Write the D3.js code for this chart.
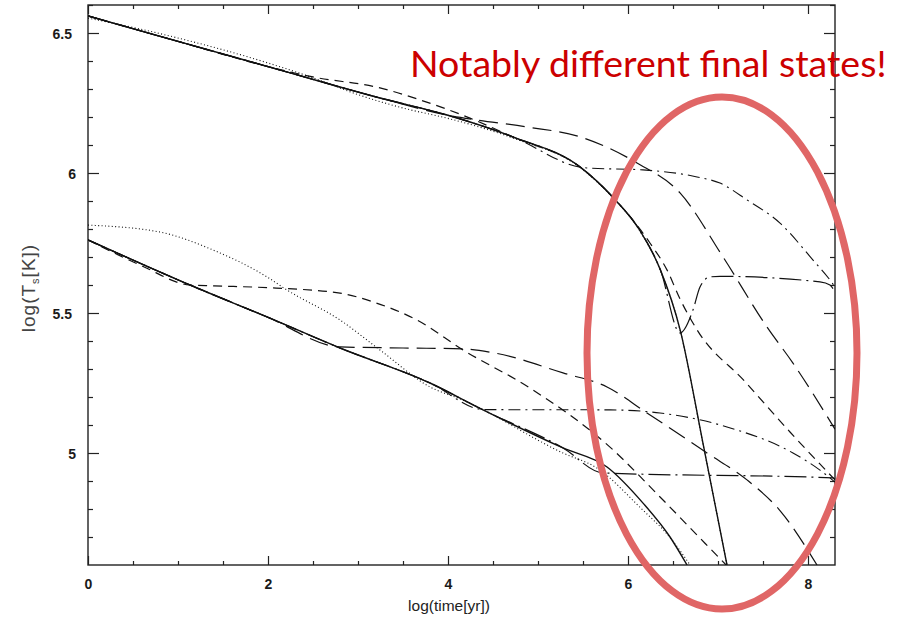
<!DOCTYPE html>
<html><head><meta charset="utf-8">
<script src="https://cdn.jsdelivr.net/npm/d3@7"></script>
<style>html,body{margin:0;padding:0;background:#fff;} svg{display:block}</style>
</head><body><svg id="chart" width="903" height="617"></svg>
<script>
// ---------- axis data ----------
const xDomain = [0, 8.3];
const yDomain = [4.6, 6.6];
const xMajorTicks = [0, 2, 4, 6, 8];
const xMinorTicks = [0.5, 1, 1.5, 2.5, 3, 3.5, 4.5, 5, 5.5, 6.5, 7, 7.5];
const yMajorTicks = [5, 5.5, 6, 6.5];
const yMinorTicks = [4.7, 4.8, 4.9, 5.1, 5.2, 5.3, 5.4, 5.6, 5.7, 5.8, 5.9, 6.1, 6.2, 6.3, 6.4, 6.6];
const xLabel = "log(time[yr])";
const annotation = "Notably different final states!";

// ---------- upper family (x = log t, y = log Ts) ----------
const upperSolid = [[0,6.561],[1,6.470],[2,6.380],[3.244,6.268],[3.99,6.207],[4.72,6.129],[5.47,6.021],[5.83,5.914],[6.13,5.796],[6.36,5.654],[6.58,5.439],[6.83,5.04],[7.1,4.6]];
const upperDotted = [[0,6.553],[0.5,6.52],[1,6.482],[1.5,6.44],[2,6.393],[2.5,6.34],[3,6.28],[3.5,6.232],[4,6.195],[4.72,6.125],[5.47,6.019],[5.83,5.912],[6.13,5.794],[6.36,5.652],[6.58,5.437],[6.83,5.038],[7.1,4.6]];
const upperShortDash = [[0,6.561],[1,6.470],[2,6.380],[2.5,6.343],[3.244,6.304],[3.69,6.261],[4.244,6.196],[4.72,6.129],[5.47,6.021],[5.83,5.914],[6.244,5.75],[6.433,5.654],[6.578,5.55],[6.767,5.44],[7.3,5.255],[7.8,5.075],[8.3,4.904]];
const upperLongDash = [[0,6.561],[1,6.470],[2,6.380],[3.244,6.268],[3.99,6.207],[4.33,6.189],[4.89,6.164],[5.47,6.129],[6.1,6.036],[6.578,5.929],[7.056,5.7],[7.544,5.45],[7.833,5.321],[8.3,5.085]];
const upperDashDot = [[0,6.561],[1,6.470],[2,6.380],[3.244,6.268],[3.99,6.207],[4.72,6.129],[5.47,6.021],[5.544,6.018],[6.167,6.011],[6.767,5.986],[7.022,5.964],[7.322,5.904],[7.689,5.821],[8.056,5.689],[8.244,5.618],[8.3,5.593]];
const upperBump = [[0,6.561],[1,6.470],[2,6.380],[3.244,6.268],[3.99,6.207],[4.72,6.129],[5.47,6.021],[5.83,5.914],[6.13,5.796],[6.36,5.654],[6.578,5.429],[6.722,5.511],[6.8,5.593],[6.911,5.629],[7.022,5.631],[8.133,5.611],[8.244,5.6],[8.3,5.575]];

// ---------- lower family ----------
const lowerSolid = [[0,5.761],[1.133,5.6],[1.989,5.486],[2.8,5.375],[3.8,5.25],[4.389,5.154],[5.278,5.018],[5.767,4.95],[6.167,4.821],[6.467,4.7],[6.656,4.6]];
const lowerDotted = [[0,5.814],[0.8,5.789],[1.389,5.725],[1.989,5.629],[2.211,5.582],[2.8,5.475],[3.244,5.368],[3.8,5.236],[4.167,5.189],[5.278,5.0],[5.656,4.946],[6.13,4.807],[6.49,4.689],[6.69,4.6]];
const lowerShortDash = [[0,5.761],[0.6,5.668],[1.133,5.6],[1.4,5.597],[2.09,5.589],[2.8,5.571],[3.2,5.536],[3.656,5.475],[4.167,5.368],[4.911,5.232],[5.8,5.021],[6.356,4.843],[6.8,4.696],[7.09,4.6]];
const lowerLongDash = [[0,5.761],[1.133,5.6],[1.989,5.486],[2.8,5.379],[3.5,5.375],[4.167,5.372],[4.522,5.357],[5.278,5.286],[5.767,5.236],[6.211,5.143],[6.878,5.0],[7.322,4.904],[7.7,4.79],[8.1,4.6]];
const lowerDashDot = [[0,5.761],[1.133,5.6],[1.989,5.486],[2.8,5.375],[3.8,5.25],[4.4,5.155],[5.8,5.154],[6.356,5.143],[7.1,5.093],[7.833,5.0],[8.133,4.939],[8.3,4.896]];
const lowerFlat = [[0,5.761],[1.133,5.6],[1.989,5.486],[2.8,5.375],[3.8,5.25],[4.389,5.154],[5.278,5.018],[5.722,4.929],[8.278,4.911],[8.3,4.905]];

// ---------- drawing ----------
const W = 903, H = 617;
const svg = d3.select('#chart');
svg.append('rect').attr('width', W).attr('height', H).attr('fill', '#fff');

const x = d3.scaleLinear().domain(xDomain).range([88, 835]);
const y = d3.scaleLinear().domain(yDomain).range([565, 5]);

const axisColor = '#222';
const font = "'Liberation Sans', Arial, sans-serif";

svg.append('clipPath').attr('id', 'plotclip')
  .append('rect').attr('x', 88).attr('y', 5).attr('width', 747).attr('height', 560);

function styleAxis(g) {
  g.select('.domain').remove();
  g.selectAll('line').attr('stroke', axisColor).attr('stroke-width', 1.2);
  g.selectAll('text').attr('fill', '#1a1a1a').attr('font-family', font)
    .attr('font-size', 14).attr('font-weight', 'bold');
}

// bottom
svg.append('g').attr('transform', 'translate(0,565)')
  .call(d3.axisBottom(x).tickValues(xMajorTicks).tickSize(-9).tickPadding(14).tickFormat(d3.format('')))
  .call(styleAxis);
svg.append('g').attr('transform', 'translate(0,565)')
  .call(d3.axisBottom(x).tickValues(xMinorTicks).tickSize(-4).tickFormat(''))
  .call(styleAxis);
// top
svg.append('g').attr('transform', 'translate(0,5)')
  .call(d3.axisTop(x).tickValues(xMajorTicks).tickSize(-9).tickFormat(''))
  .call(styleAxis);
svg.append('g').attr('transform', 'translate(0,5)')
  .call(d3.axisTop(x).tickValues(xMinorTicks).tickSize(-4).tickFormat(''))
  .call(styleAxis);
// left
const gl = svg.append('g').attr('transform', 'translate(88,0)')
  .call(d3.axisLeft(y).tickValues(yMajorTicks).tickSize(-11).tickPadding(16).tickFormat(d3.format('')))
  .call(styleAxis);
gl.selectAll('text').attr('dy', '0.72em').attr('dx', d => Number.isInteger(d) ? 4 : 0)
  .attr('transform', 'translate(0,-5)');
svg.append('g').attr('transform', 'translate(88,0)')
  .call(d3.axisLeft(y).tickValues(yMinorTicks).tickSize(-5).tickFormat(''))
  .call(styleAxis);
// right
svg.append('g').attr('transform', 'translate(835,0)')
  .call(d3.axisRight(y).tickValues(yMajorTicks).tickSize(-11).tickFormat(''))
  .call(styleAxis);
svg.append('g').attr('transform', 'translate(835,0)')
  .call(d3.axisRight(y).tickValues(yMinorTicks).tickSize(-5).tickFormat(''))
  .call(styleAxis);

// frame
svg.append('rect').attr('x', 88).attr('y', 5).attr('width', 747).attr('height', 560)
  .attr('fill', 'none').attr('stroke', axisColor).attr('stroke-width', 1.4);

// axis labels
svg.append('text').attr('x', 449).attr('y', 611).attr('text-anchor', 'middle')
  .attr('font-family', font).attr('font-size', 15.5).attr('fill', '#222').text(xLabel);
const yl = svg.append('text').attr('transform', 'translate(35,288) rotate(-90)')
  .attr('text-anchor', 'middle').attr('font-family', font).attr('font-size', 19)
  .attr('letter-spacing', 1).attr('fill', '#444');
yl.append('tspan').text('log(T');
yl.append('tspan').attr('font-size', 11).attr('dy', 4).text('s');
yl.append('tspan').attr('dy', -4).text('[K])');

// curves
const line = d3.line().x(d => x(d[0])).y(d => y(d[1])).curve(d3.curveMonotoneX);
const series = [
  {data: upperSolid, dash: null, w: 1.4},
  {data: upperDotted, dash: '1,2.4', w: 1.1},
  {data: upperShortDash, dash: '9,6', w: 1.2},
  {data: upperLongDash, dash: '19,8', w: 1.2},
  {data: upperDashDot, dash: '12,5,2,5', w: 1.1},
  {data: upperBump, dash: '22,5,2,5', w: 1.2},
  {data: lowerSolid, dash: null, w: 1.4},
  {data: lowerDotted, dash: '1,2.4', w: 1.1},
  {data: lowerShortDash, dash: '9,6', w: 1.2},
  {data: lowerLongDash, dash: '19,8', w: 1.2},
  {data: lowerDashDot, dash: '12,5,2,5', w: 1.1},
  {data: lowerFlat, dash: '22,5,2,5', w: 1.2}
];
const gc = svg.append('g').attr('clip-path', 'url(#plotclip)');
gc.selectAll('path.curve').data(series).join('path').attr('class', 'curve')
  .attr('d', s => line(s.data)).attr('fill', 'none').attr('stroke', '#111')
  .attr('stroke-width', s => s.w).attr('stroke-dasharray', s => s.dash);

// annotation ellipse and text
svg.append('ellipse').attr('cx', 722).attr('cy', 353).attr('rx', 135).attr('ry', 256)
  .attr('fill', 'none').attr('stroke', '#e06666').attr('stroke-width', 7);
svg.append('text').attr('x', 410).attr('y', 77).attr('font-family', "Lato, 'Open Sans', sans-serif")
  .attr('font-size', 37.5).attr('fill', '#cc0000').text(annotation);
</script></body></html>
